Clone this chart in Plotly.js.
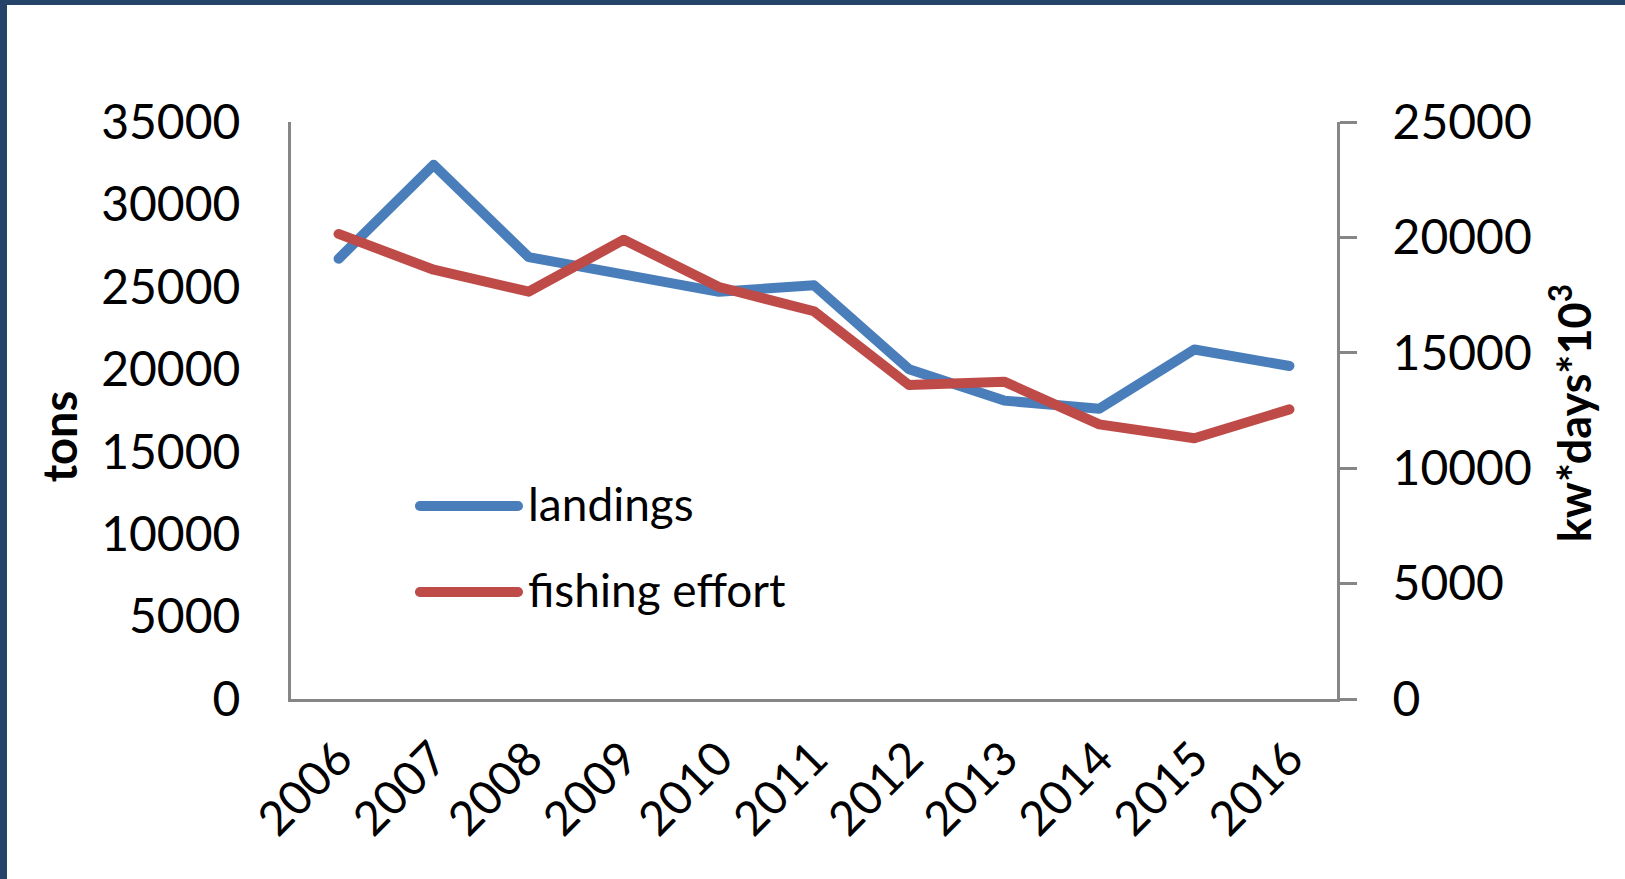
<!DOCTYPE html>
<html>
<head>
<meta charset="utf-8">
<script src="https://cdn.plot.ly/plotly-3.0.1.min.js"></script>
<style>
  html, body { margin: 0; padding: 0; background: #ffffff; }
  #wrap { position: relative; width: 1625px; height: 879px; overflow: hidden; }
  #chart { position: absolute; left: 0; top: 0; width: 1625px; height: 879px; }
  .band { position: absolute; background: #264469; }
  .js-line, .shapelayer path { stroke-linecap: round; stroke-linejoin: round; }
</style>
</head>
<body>
<div id="wrap">
  <div id="chart"></div>
  <div class="band" style="left:0;top:0;width:1625px;height:5px;"></div>
  <div class="band" style="left:0;top:0;width:7px;height:879px;"></div>
</div>
<script>
// ---- data ----
const years = ['2006', '2007', '2008', '2009', '2010', '2011', '2012', '2013', '2014', '2015', '2016'];
const landings = [26700, 32400, 26800, 25700, 24700, 25100, 20000, 18100, 17600, 21200, 20200];
const effort = [20150, 18600, 17650, 19900, 17850, 16800, 13600, 13750, 11900, 11300, 12550];
const leftTicks = [0, 5000, 10000, 15000, 20000, 25000, 30000, 35000];
const rightTicks = [0, 5000, 10000, 15000, 20000, 25000];
const seriesNames = ['landings', 'fishing effort'];

const BLUE = '#4A7EBB';
const RED = '#BE4B48';
const AXIS = '#868686';
const FONT = 'Lato, "Open Sans", sans-serif';

const traces = [
  {
    x: years, y: landings, name: seriesNames[0], type: 'scatter', mode: 'lines',
    line: { color: BLUE, width: 10 }, yaxis: 'y', hoverinfo: 'x+y'
  },
  {
    x: years, y: effort, name: seriesNames[1], type: 'scatter', mode: 'lines',
    line: { color: RED, width: 10 }, yaxis: 'y2', hoverinfo: 'x+y'
  }
];

const legY = [0.3345, 0.1854];
const legColors = [BLUE, RED];
const shapes = [];
const annotations = [];
seriesNames.forEach((n, i) => {
  shapes.push({
    type: 'line', xref: 'paper', yref: 'paper',
    x0: 0.1233, x1: 0.217, y0: legY[i], y1: legY[i],
    line: { color: legColors[i], width: 10 }
  });
  annotations.push({
    xref: 'paper', yref: 'paper', x: 0.2245, y: legY[i] + 0.005,
    xanchor: 'left', yanchor: 'middle', showarrow: false,
    text: n, font: { family: FONT, size: 46, color: '#000000' }
  });
});
// axis titles
annotations.push({
  xref: 'paper', yref: 'paper', x: -0.221, y: 0.455,
  xanchor: 'center', yanchor: 'middle', showarrow: false, textangle: -90,
  text: '<b>tons</b>', font: { family: FONT, size: 47, color: '#000000' }
});
annotations.push({
  xref: 'paper', yref: 'paper', x: 1.2245, y: 0.495,
  xanchor: 'center', yanchor: 'middle', showarrow: false, textangle: -90,
  text: '<b>kw*days*10<sup>3</sup></b>', font: { family: FONT, size: 45, color: '#000000' }
});

const layout = {
  width: 1625, height: 879,
  margin: { l: 291, r: 288, t: 122, b: 180 },
  paper_bgcolor: '#ffffff', plot_bgcolor: '#ffffff',
  showlegend: false,
  font: { family: FONT, color: '#000000' },
  xaxis: {
    type: 'category', range: [-0.5, 10.5],
    showline: true, linecolor: AXIS, linewidth: 3,
    showgrid: false, zeroline: false, ticks: '',
    tickangle: -45, tickfont: { family: FONT, size: 47, color: '#000000' },
    ticklabelstandoff: 10, fixedrange: true
  },
  yaxis: {
    range: [0, 35000], tickvals: leftTicks, ticktext: leftTicks.map(String),
    showline: true, linecolor: AXIS, linewidth: 3,
    showgrid: false, zeroline: false, ticks: '',
    tickfont: { family: FONT, size: 48, color: '#000000' },
    ticklabelstandoff: 38, fixedrange: true
  },
  yaxis2: {
    range: [0, 25000], tickvals: rightTicks, ticktext: rightTicks.map(String),
    overlaying: 'y', side: 'right',
    showline: true, linecolor: AXIS, linewidth: 3,
    showgrid: false, zeroline: false,
    ticks: 'outside', ticklen: 17, tickwidth: 3, tickcolor: AXIS,
    tickfont: { family: FONT, size: 48, color: '#000000' },
    ticklabelstandoff: 26, fixedrange: true
  },
  shapes: shapes,
  annotations: annotations
};

Plotly.newPlot('chart', traces, layout, { displayModeBar: false, staticPlot: true });
</script>
</body>
</html>
